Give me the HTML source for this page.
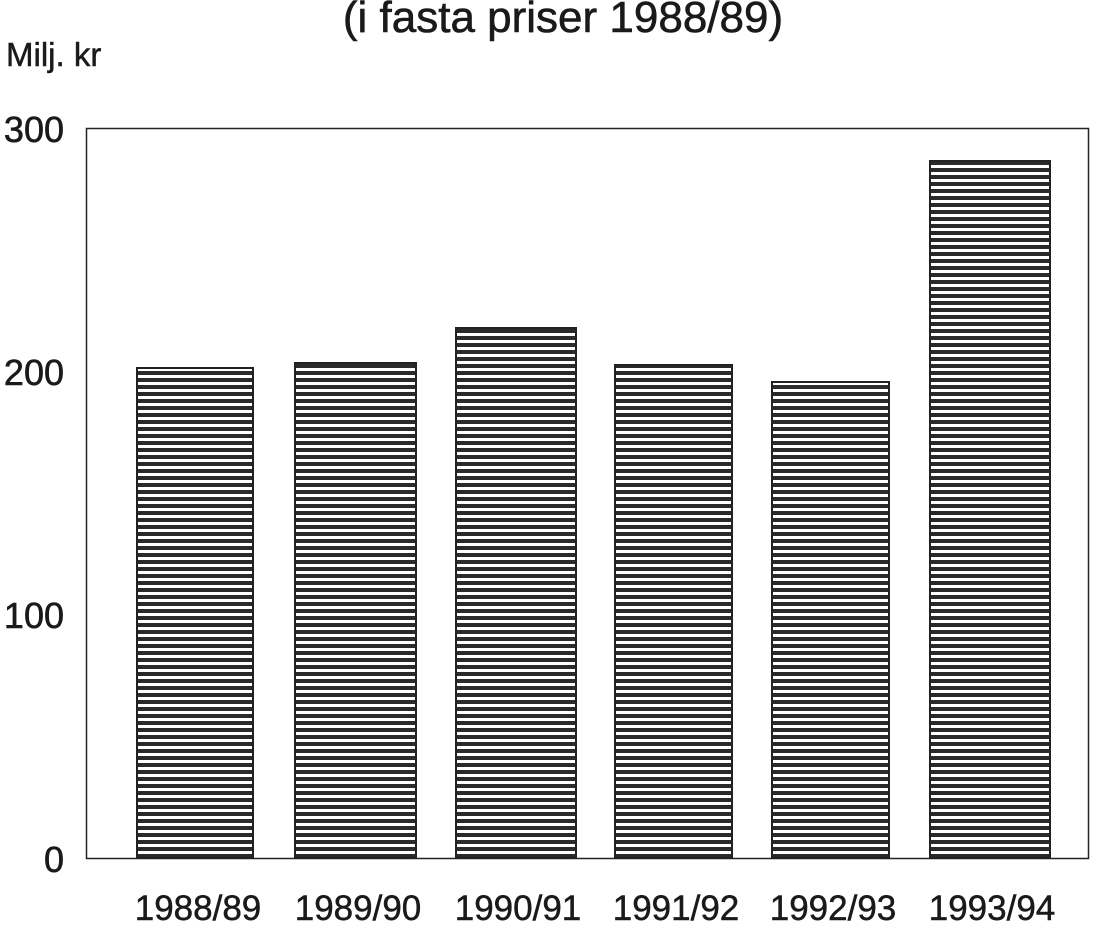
<!DOCTYPE html>
<html><head><style>html,body{margin:0;padding:0;background:#fff}</style></head>
<body>
<svg width="1104" height="921" xmlns="http://www.w3.org/2000/svg" font-family="Liberation Sans, Arial, sans-serif" fill="#1a1a1a">
<defs>
<pattern id="h" patternUnits="userSpaceOnUse" x="0" y="0" width="10" height="7">
<rect width="10" height="7" fill="#fff"/>
<rect y="0" width="10" height="4" fill="#2a2a2a"/>
</pattern>
</defs>
<text x="563" y="32" font-size="44" text-anchor="middle" stroke="#1a1a1a" stroke-width="0.6">(i fasta priser 1988/89)</text>
<text x="6" y="66" font-size="33" stroke="#1a1a1a" stroke-width="0.5">Milj. kr</text>
<rect x="86.5" y="128.5" width="1002" height="730" fill="none" stroke="#222" stroke-width="1.5"/>
<g font-size="36" text-anchor="end" stroke="#1a1a1a" stroke-width="0.6">
<text x="64" y="142">300</text>
<text x="64" y="385">200</text>
<text x="64" y="628">100</text>
<text x="64" y="872">0</text>
</g>
<g stroke="#222" stroke-width="2" fill="url(#h)">
<rect x="137" y="368" width="116" height="490"/>
<rect x="295" y="363" width="121" height="495"/>
<rect x="456" y="328" width="120" height="530"/>
<rect x="615" y="365" width="117" height="493"/>
<rect x="772" y="382" width="117" height="476"/>
<rect x="930" y="161" width="120" height="697"/>
</g>
<g font-size="35" text-anchor="middle" stroke="#1a1a1a" stroke-width="0.5">
<text x="198" y="920">1988/89</text>
<text x="358" y="920">1989/90</text>
<text x="518" y="920">1990/91</text>
<text x="676" y="920">1991/92</text>
<text x="833" y="920">1992/93</text>
<text x="992" y="920">1993/94</text>
</g>
</svg>
</body></html>
